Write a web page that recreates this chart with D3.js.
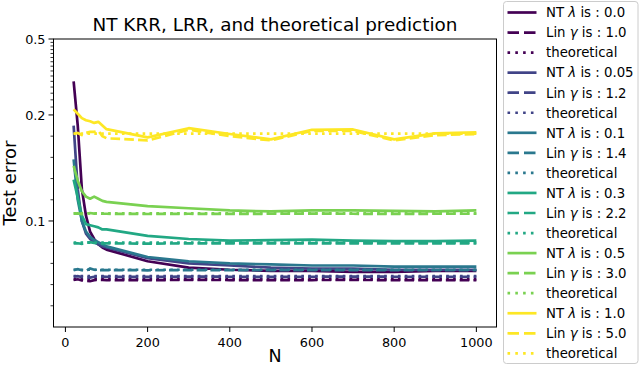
<!DOCTYPE html>
<html>
<head>
<meta charset="utf-8">
<script src="https://cdn.jsdelivr.net/npm/d3@7"></script>
<style>
  body { margin: 0; background: #fff; }
  text { font-family: "DejaVu Sans", sans-serif; }
</style>
</head>
<body>
<script>
// sample sizes
const N = [20, 30, 40, 50, 60, 70, 80, 90, 100, 200, 300, 400, 500, 600, 700, 800, 900, 1000];

const lambdas = ["0.0", "0.05", "0.1", "0.3", "0.5", "1.0"];
const gammas = ["1.0", "1.2", "1.4", "2.2", "3.0", "5.0"];

// NT kernel ridge regression test error, one row per lambda
const ntErr = [
  [0.300, 0.190, 0.130, 0.105, 0.090, 0.083, 0.078, 0.075, 0.073, 0.062, 0.056, 0.054, 0.053, 0.053, 0.052, 0.052, 0.053, 0.053],
  [0.190, 0.130, 0.100, 0.088, 0.083, 0.080, 0.078, 0.076, 0.075, 0.065, 0.060, 0.058, 0.056, 0.055, 0.055, 0.054, 0.054, 0.054],
  [0.158, 0.120, 0.100, 0.090, 0.085, 0.082, 0.080, 0.078, 0.076, 0.066, 0.062, 0.060, 0.059, 0.058, 0.058, 0.057, 0.057, 0.057],
  [0.139, 0.122, 0.105, 0.097, 0.096, 0.095, 0.094, 0.092, 0.092, 0.086, 0.083, 0.0815, 0.082, 0.0825, 0.0815, 0.081, 0.081, 0.0815],
  [0.152, 0.138, 0.128, 0.123, 0.121, 0.123, 0.121, 0.119, 0.118, 0.114, 0.112, 0.110, 0.109, 0.110, 0.110, 0.1095, 0.109, 0.110],
  [0.214, 0.203, 0.197, 0.195, 0.194, 0.1925, 0.1935, 0.190, 0.1866, 0.1788, 0.1875, 0.182, 0.177, 0.186, 0.1863, 0.177, 0.1826, 0.1835]
];

// linear ridge regression test error, one row per gamma
const linErr = [
  [0.0443, 0.0450, 0.0440, 0.0436, 0.0432, 0.0442, 0.0445, 0.0444, 0.0443, 0.0442, 0.0444, 0.0443, 0.0442, 0.0443, 0.0444, 0.0442, 0.0443, 0.0443],
  [0.0474, 0.0480, 0.0472, 0.0468, 0.0466, 0.0474, 0.0476, 0.0475, 0.0474, 0.0473, 0.0475, 0.0474, 0.0473, 0.0474, 0.0475, 0.0474, 0.0474, 0.0474],
  [0.0537, 0.0545, 0.0535, 0.0528, 0.0552, 0.0540, 0.0537, 0.0536, 0.0537, 0.0535, 0.0537, 0.0536, 0.0536, 0.0537, 0.0537, 0.0536, 0.0537, 0.0537],
  [0.0789, 0.0790, 0.0785, 0.0795, 0.0800, 0.0792, 0.0790, 0.0788, 0.0789, 0.0786, 0.0789, 0.0788, 0.0788, 0.0789, 0.0789, 0.0788, 0.0789, 0.0789],
  [0.107, 0.1072, 0.1065, 0.1068, 0.1075, 0.1070, 0.1072, 0.1069, 0.1068, 0.1066, 0.1068, 0.1067, 0.1068, 0.1069, 0.1068, 0.1067, 0.1068, 0.1068],
  [0.182, 0.183, 0.181, 0.183, 0.184, 0.184, 0.185, 0.180, 0.178, 0.176, 0.186, 0.180, 0.176, 0.185, 0.185, 0.176, 0.181, 0.182]
];

// theoretical prediction (flat in N)
const theory = [0.0450, 0.0480, 0.0540, 0.0795, 0.1072, 0.1823];

const xTicks = [0, 200, 400, 600, 800, 1000];
const yTicks = [0.1, 0.2, 0.5];
const yMinor = d3.range(1, 25).map(k => k * 0.02).filter(v => Math.abs(v - 0.1) > 1e-9 && Math.abs(v - 0.2) > 1e-9);

const colors = lambdas.map((d, i) => d3.interpolateViridis(i / 5));

const W = 640, H = 368;
const plot = { left: 53.5, right: 496.5, top: 39, bottom: 327 };

const svg = d3.select("body").append("svg")
  .attr("width", W)
  .attr("height", H);

// matplotlib style symlog, linthresh 0.2
const linthresh = 0.2;
const linscale = 1 / (1 - 1 / 10);
function symlog(v) {
  return v <= linthresh ? v * linscale : linthresh * (linscale + Math.log10(v / linthresh));
}

const x = d3.scaleLinear().domain([-29, 1049]).range([plot.left, plot.right]);
const yT = d3.scaleLinear().domain([symlog(0), symlog(0.5)]).range([plot.bottom, plot.top]);
const y = v => yT(symlog(v));

const g = svg.append("g");

// lines
const line = d3.line()
  .x(d => x(d[0]))
  .y(d => y(d[1]));

svg.append("clipPath").attr("id", "clip")
  .append("rect")
  .attr("x", plot.left).attr("y", plot.top)
  .attr("width", plot.right - plot.left).attr("height", plot.bottom - plot.top);

const lines = g.append("g").attr("clip-path", "url(#clip)");
const lw = 2.7;

lambdas.forEach((lam, i) => {
  lines.append("path")
    .attr("d", line(N.map((n, j) => [n, ntErr[i][j]])))
    .attr("fill", "none")
    .attr("stroke", colors[i])
    .attr("stroke-width", lw)
    .attr("stroke-linejoin", "round");
  lines.append("path")
    .attr("d", line(N.map((n, j) => [n, linErr[i][j]])))
    .attr("fill", "none")
    .attr("stroke", colors[i])
    .attr("stroke-width", lw)
    .attr("stroke-dasharray", "9.6,4.2");
  lines.append("path")
    .attr("d", line(N.map(n => [n, theory[i]])))
    .attr("fill", "none")
    .attr("stroke", colors[i])
    .attr("stroke-width", lw)
    .attr("stroke-dasharray", "2.6,4.3");
});

// frame
g.append("rect")
  .attr("x", plot.left).attr("y", plot.top)
  .attr("width", plot.right - plot.left).attr("height", plot.bottom - plot.top)
  .attr("fill", "none")
  .attr("stroke", "black")
  .attr("stroke-width", 1);

// x axis
const xa = g.append("g");
xTicks.forEach(t => {
  xa.append("line")
    .attr("x1", x(t)).attr("x2", x(t))
    .attr("y1", plot.bottom).attr("y2", plot.bottom + 5)
    .attr("stroke", "black");
  xa.append("text")
    .attr("x", x(t)).attr("y", plot.bottom + 19.5)
    .attr("text-anchor", "middle")
    .attr("font-size", 12.8)
    .text(t);
});

// y axis
const ya = g.append("g");
yMinor.forEach(t => {
  ya.append("line")
    .attr("x1", plot.left - 3).attr("x2", plot.left)
    .attr("y1", y(t)).attr("y2", y(t))
    .attr("stroke", "black")
    .attr("stroke-width", 0.8);
});
yTicks.forEach(t => {
  ya.append("line")
    .attr("x1", plot.left - 5).attr("x2", plot.left)
    .attr("y1", y(t)).attr("y2", y(t))
    .attr("stroke", "black");
  ya.append("text")
    .attr("x", plot.left - 8).attr("y", y(t) + 4.6)
    .attr("text-anchor", "end")
    .attr("font-size", 12.8)
    .text(t);
});

// labels
svg.append("text")
  .attr("x", (plot.left + plot.right) / 2).attr("y", 31)
  .attr("text-anchor", "middle")
  .attr("font-size", 18.4)
  .text("NT KRR, LRR, and theoretical prediction");

svg.append("text")
  .attr("x", (plot.left + plot.right) / 2).attr("y", 362)
  .attr("text-anchor", "middle")
  .attr("font-size", 17.5)
  .text("N");

svg.append("text")
  .attr("transform", "translate(15.5," + ((plot.top + plot.bottom) / 2) + ") rotate(-90)")
  .attr("text-anchor", "middle")
  .attr("font-size", 18)
  .text("Test error");

// legend
const leg = svg.append("g");
leg.append("rect")
  .attr("x", 503.5).attr("y", 1.5)
  .attr("width", 134.5).attr("height", 362)
  .attr("rx", 3)
  .attr("fill", "white")
  .attr("fill-opacity", 0.8)
  .attr("stroke", "#cccccc");

const entries = [];
lambdas.forEach((lam, i) => {
  entries.push({ kind: "solid", c: colors[i], pre: "NT ", sym: "λ", post: " is : " + lam });
  entries.push({ kind: "dash", c: colors[i], pre: "Lin ", sym: "γ", post: " is : " + gammas[i] });
  entries.push({ kind: "dot", c: colors[i], pre: "theoretical", sym: "", post: "" });
});

entries.forEach((e, i) => {
  const yy = 12.5 + i * 20.05;
  leg.append("line")
    .attr("x1", 507.5).attr("x2", 536.5)
    .attr("y1", yy).attr("y2", yy)
    .attr("stroke", e.c)
    .attr("stroke-width", lw)
    .attr("stroke-dasharray", e.kind === "dash" ? "11.5,5" : e.kind === "dot" ? "2.6,5.2" : null);
  const t = leg.append("text")
    .attr("x", 546).attr("y", yy + 4.8)
    .attr("font-size", 13.3);
  t.append("tspan").text(e.pre);
  if (e.sym) {
    t.append("tspan").attr("font-style", "italic").text(e.sym);
    t.append("tspan").text(e.post);
  }
});
</script>
</body>
</html>
